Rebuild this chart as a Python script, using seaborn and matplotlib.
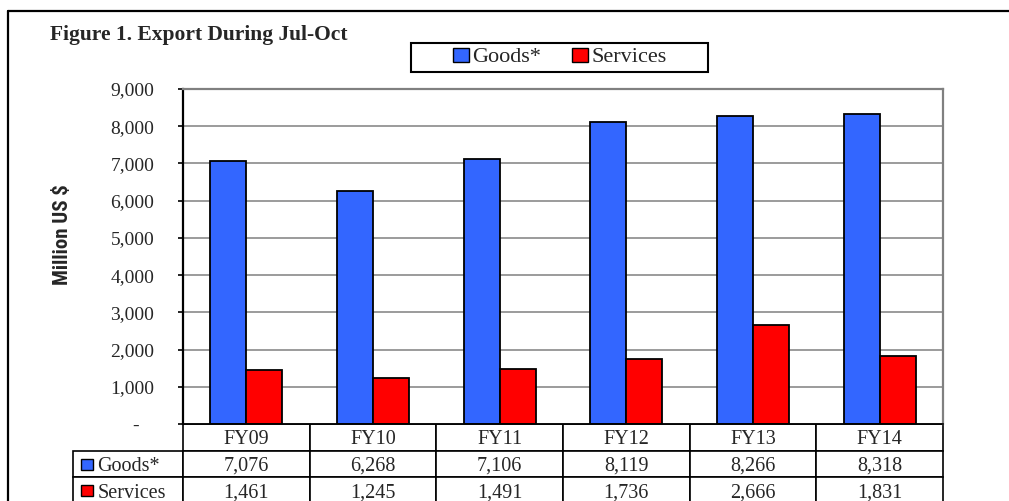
import numpy as np
import pandas as pd
import matplotlib
matplotlib.use("Agg")
import matplotlib.pyplot as plt
import matplotlib.transforms as mtransforms
import seaborn as sns
from matplotlib.patches import Patch, Rectangle
from matplotlib.lines import Line2D

# ---- data ----
years = ["FY09", "FY10", "FY11", "FY12", "FY13", "FY14"]
goods = [7076, 6268, 7106, 8119, 8266, 8318]
services = [1461, 1245, 1491, 1736, 2666, 1831]
series_names = ["Goods*", "Services"]
colors = ["#3366FF", "#FF0000"]
yticks = [0, 1000, 2000, 3000, 4000, 5000, 6000, 7000, 8000, 9000]
ytick_labels = ["-   ", "1,000", "2,000", "3,000", "4,000", "5,000",
                "6,000", "7,000", "8,000", "9,000"]
title = "Figure 1. Export During Jul-Oct"
ylabel = "Million US $"

sns.set_style("white")
plt.rcParams["font.family"] = ["Liberation Serif", "DejaVu Serif"]

df = pd.DataFrame({
    "year": years * 2,
    "value": goods + services,
    "series": [series_names[0]] * len(years) + [series_names[1]] * len(years),
})

W, H = 1009, 501
fig = plt.figure(figsize=(W / 100, H / 100), dpi=100)
ax = fig.add_axes([183 / W, 1 - 424 / H, 760 / W, 335 / H])

sns.barplot(data=df, x="year", y="value", hue="series", palette=colors,
            width=0.57, edgecolor="black", linewidth=1.3, saturation=1,
            ax=ax, legend=False)

ax.set_xlim(-0.5, len(years) - 0.5)
ax.set_ylim(0, 9000)
ax.set_yticks(yticks)
ax.set_yticklabels(ytick_labels, fontsize=14)
ax.yaxis.grid(True, color="#808080", lw=1.1)
ax.xaxis.grid(False)
ax.set_axisbelow(True)
ax.spines["left"].set_color("black")
ax.spines["left"].set_linewidth(1.6)
ax.spines["bottom"].set_color("black")
ax.spines["bottom"].set_linewidth(1.2)
for s in ("top", "right"):
    ax.spines[s].set_visible(True)
    ax.spines[s].set_color("#808080")
    ax.spines[s].set_linewidth(1.6)
ax.tick_params(axis="y", direction="out", length=3.6, width=1.2,
               color="black", pad=17, left=True)
ax.tick_params(axis="x", bottom=False, labelbottom=False)
ax.set_xlabel("")
ax.set_ylabel(ylabel, family=["Liberation Sans Narrow", "Roboto Condensed",
                              "DejaVu Sans"],
              fontstretch="condensed", fontweight="bold", fontsize=15)
ax.yaxis.set_label_coords(-0.146, 0.564)

# ---- data table under the chart ----
x0 = (73 - 183) / 760
tw = 870 / 760
th = 80 / 335
y0 = -th
first_w = 110
other_w = 760 / len(years)
cell_text = [[""] + years,
             [series_names[0]] + [f"{v:,}" for v in goods],
             [series_names[1]] + [f"{v:,}" for v in services]]
tbl = ax.table(cellText=cell_text, colWidths=[first_w] + [other_w] * len(years),
               cellLoc="center", bbox=[x0, y0, tw, th])
tbl.auto_set_font_size(False)
tbl.set_fontsize(14.5)
for (r, c), cell in tbl.get_celld().items():
    cell.set_edgecolor("black")
    cell.set_linewidth(1.2)
    cell.set_facecolor("white")
    cell.get_text().set_transform(mtransforms.Affine2D().translate(0, -2.5))
tbl[0, 0].visible_edges = "open"
for r in (1, 2):
    cell = tbl[r, 0]
    cell._loc = "left"
    cell.get_text().set_horizontalalignment("left")
    cell.PAD = 0.22

# legend key squares in the row-label cells
cw0 = tw * first_w / (first_w + other_w * len(years))
rh = th / 3
mh = 11 / 335
for i, col in enumerate(colors, start=1):
    yc = y0 + th - (i + 0.5) * rh
    fig.add_artist(Rectangle((x0 + cw0 * 0.07, yc - mh / 2), cw0 * 0.11, mh,
                             facecolor=col, edgecolor="black", linewidth=1.0,
                             transform=ax.transAxes, clip_on=False))

# ---- legend ----
fig.add_artist(Rectangle((411 / W, 1 - 72 / H), 297 / W, 29 / H,
                         facecolor="white", edgecolor="black", linewidth=1.5,
                         transform=fig.transFigure))
handles = [Patch(facecolor=c, edgecolor="black", linewidth=1.0) for c in colors]
leg = fig.legend(handles, series_names, loc="center",
                 bbox_to_anchor=(560 / W, 1 - 57.5 / H), ncol=2, fontsize=16,
                 frameon=False, handlelength=0.7, handleheight=0.6,
                 handletextpad=0.15, columnspacing=1.4, borderpad=0.0,
                 borderaxespad=0)

# ---- title & outer frame ----
fig.text(50 / W, 1 - 40 / H, title, fontsize=15.5, fontweight="bold",
         ha="left", va="baseline")
fig.add_artist(Line2D([8 / W, 8 / W], [1 - 11 / H, 0], color="black", lw=1.6,
                      transform=fig.transFigure))
fig.add_artist(Line2D([8 / W, 1], [1 - 11 / H, 1 - 11 / H], color="black", lw=1.6,
                      transform=fig.transFigure))

fig.savefig("out.png", dpi=100)
